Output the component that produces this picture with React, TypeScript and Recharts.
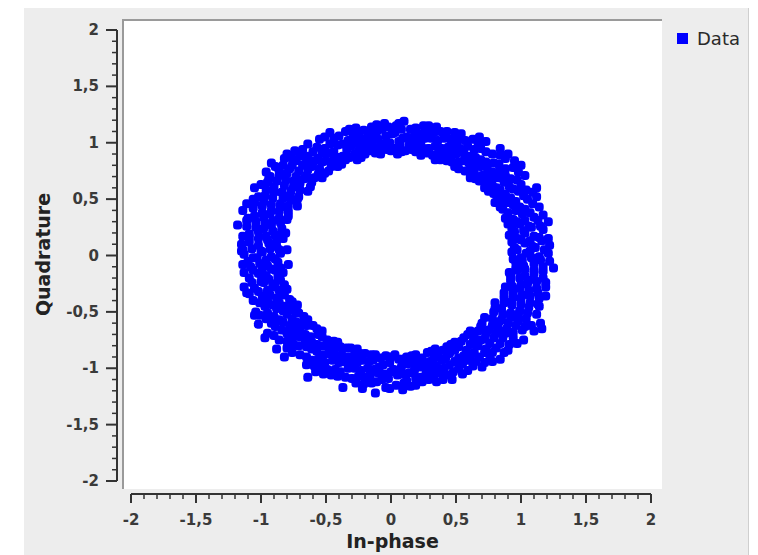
import { ScatterChart, Scatter, XAxis, YAxis, CartesianGrid, Legend } from 'recharts';

const quadrant1: [number, number][] = [
  [0.93, 0.03], [1.0, -0.02], [1.07, 0.04], [1.14, -0.01], [1.21, 0.02],
  [0.97, 0.05], [1.04, 0.02], [1.11, 0.07], [1.18, 0.05],
  [0.95, 0.07], [1.03, 0.11], [1.09, 0.08], [1.16, 0.13], [1.22, 0.09],
  [0.93, 0.12], [1.0, 0.14], [1.07, 0.13], [1.14, 0.16], [1.21, 0.15],
  [0.91, 0.18], [0.97, 0.15], [1.03, 0.2], [1.1, 0.17], [1.17, 0.23],
  [0.95, 0.21], [1.02, 0.22], [1.08, 0.25], [1.15, 0.26],
  [0.93, 0.24], [0.99, 0.28], [1.06, 0.26], [1.13, 0.31], [1.21, 0.3],
  [0.9, 0.28], [0.97, 0.3], [1.03, 0.31], [1.1, 0.34], [1.17, 0.36],
  [0.88, 0.33], [0.94, 0.32], [1.01, 0.37], [1.07, 0.38], [1.14, 0.43],
  [0.9, 0.38], [0.96, 0.4], [1.03, 0.41], [1.09, 0.46],
  [0.86, 0.41], [0.94, 0.45], [0.99, 0.43], [1.05, 0.5], [1.12, 0.52],
  [0.84, 0.43], [0.9, 0.47], [0.96, 0.48], [1.02, 0.53], [1.09, 0.56],
  [0.8, 0.47], [0.85, 0.49], [0.92, 0.51], [0.98, 0.57], [1.04, 0.58], [1.12, 0.6],
  [0.82, 0.52], [0.88, 0.54], [0.94, 0.59], [1.0, 0.63],
  [0.79, 0.55], [0.84, 0.58], [0.91, 0.61], [0.97, 0.67], [1.03, 0.71],
  [0.75, 0.57], [0.81, 0.6], [0.87, 0.65], [0.92, 0.68], [0.98, 0.74],
  [0.72, 0.6], [0.78, 0.62], [0.83, 0.69], [0.88, 0.71], [0.94, 0.78], [1.0, 0.8],
  [0.73, 0.65], [0.78, 0.68], [0.83, 0.74], [0.88, 0.77],
  [0.68, 0.66], [0.74, 0.72], [0.78, 0.74], [0.83, 0.81], [0.88, 0.86],
  [0.65, 0.68], [0.7, 0.71], [0.74, 0.78], [0.79, 0.82], [0.84, 0.89], [0.9, 0.9], [0.95, 0.84],
  [0.61, 0.69], [0.64, 0.74], [0.69, 0.79], [0.73, 0.83], [0.78, 0.9], [0.84, 0.95],
  [0.61, 0.76], [0.65, 0.8], [0.69, 0.85], [0.73, 0.92],
  [0.57, 0.75], [0.6, 0.82], [0.65, 0.87], [0.69, 0.95], [0.73, 1.01],
  [0.52, 0.77], [0.56, 0.84], [0.6, 0.88], [0.64, 0.94], [0.67, 1.0],
  [0.49, 0.79], [0.52, 0.83], [0.56, 0.91], [0.59, 0.97], [0.63, 1.03], [0.68, 1.05],
  [0.47, 0.83], [0.5, 0.9], [0.53, 0.95], [0.57, 1.02],
  [0.43, 0.84], [0.46, 0.9], [0.48, 0.97], [0.51, 1.02], [0.54, 1.08],
  [0.38, 0.85], [0.41, 0.91], [0.44, 0.96], [0.46, 1.03], [0.49, 1.09],
  [0.34, 0.85], [0.36, 0.9], [0.39, 0.95], [0.41, 1.04], [0.43, 1.1],
  [0.32, 0.89], [0.34, 0.97], [0.36, 1.02], [0.38, 1.1],
  [0.28, 0.91], [0.29, 0.95], [0.31, 1.04], [0.33, 1.09], [0.35, 1.14],
  [0.23, 0.89], [0.25, 0.95], [0.26, 1.04], [0.28, 1.1], [0.29, 1.15],
  [0.19, 0.92], [0.21, 0.97], [0.23, 1.01], [0.22, 1.08], [0.25, 1.15],
  [0.16, 0.94], [0.17, 1.0], [0.18, 1.06], [0.19, 1.13],
  [0.11, 0.93], [0.14, 0.98], [0.12, 1.05], [0.15, 1.12], [0.1, 1.19],
  [0.08, 0.92], [0.07, 0.98], [0.09, 1.04], [0.08, 1.12], [0.06, 1.17],
];

const quadrant2: [number, number][] = [
  [0.05, 0.9], [0.02, 0.95], [0.06, 1.01], [0.03, 1.09], [0.04, 1.15],
  [0.0, 0.93], [-0.01, 1.0], [0.01, 1.08], [-0.02, 1.14],
  [-0.03, 0.94], [-0.06, 0.99], [-0.04, 1.06], [-0.07, 1.12], [-0.05, 1.17],
  [-0.08, 0.9], [-0.09, 0.96], [-0.1, 1.03], [-0.11, 1.1], [-0.11, 1.16],
  [-0.12, 0.91], [-0.14, 0.97], [-0.13, 1.03], [-0.16, 1.08], [-0.15, 1.14],
  [-0.16, 0.93], [-0.18, 0.99], [-0.19, 1.04], [-0.21, 1.11],
  [-0.2, 0.9], [-0.22, 0.96], [-0.23, 1.03], [-0.25, 1.07], [-0.27, 1.13],
  [-0.23, 0.87], [-0.25, 0.93], [-0.27, 1.0], [-0.29, 1.06], [-0.32, 1.12],
  [-0.26, 0.85], [-0.28, 0.9], [-0.31, 0.97], [-0.33, 1.02], [-0.35, 1.1],
  [-0.32, 0.87], [-0.34, 0.94], [-0.37, 0.99], [-0.4, 1.06],
  [-0.35, 0.85], [-0.37, 0.88], [-0.41, 0.98], [-0.44, 1.04], [-0.47, 1.09],
  [-0.38, 0.81], [-0.41, 0.87], [-0.44, 0.92], [-0.47, 0.99], [-0.51, 1.05],
  [-0.41, 0.79], [-0.44, 0.85], [-0.48, 0.91], [-0.51, 0.95], [-0.55, 1.03],
  [-0.46, 0.79], [-0.5, 0.84], [-0.53, 0.91], [-0.57, 0.96],
  [-0.48, 0.75], [-0.53, 0.83], [-0.56, 0.86], [-0.6, 0.92], [-0.64, 0.99],
  [-0.51, 0.73], [-0.55, 0.77], [-0.59, 0.84], [-0.64, 0.88], [-0.68, 0.94], [-0.74, 0.93], [-0.76, 0.86],
  [-0.53, 0.69], [-0.56, 0.72], [-0.61, 0.79], [-0.65, 0.83], [-0.7, 0.88],
  [-0.59, 0.69], [-0.64, 0.76], [-0.68, 0.8], [-0.73, 0.84],
  [-0.92, 0.82], [-0.8, 0.9], [-0.87, 0.78],
  [-0.61, 0.65], [-0.65, 0.71], [-0.71, 0.75], [-0.76, 0.8], [-0.82, 0.86],
  [-0.62, 0.61], [-0.67, 0.68], [-0.73, 0.7], [-0.78, 0.77], [-0.83, 0.8], [-0.89, 0.79], [-0.96, 0.74],
  [-0.64, 0.57], [-0.7, 0.64], [-0.75, 0.66], [-0.8, 0.73], [-0.86, 0.75], [-0.93, 0.7],
  [-0.7, 0.58], [-0.75, 0.61], [-0.81, 0.67], [-0.86, 0.71],
  [-0.71, 0.52], [-0.77, 0.57], [-0.82, 0.62], [-0.88, 0.66], [-0.94, 0.68],
  [-0.72, 0.5], [-0.78, 0.53], [-0.84, 0.56], [-0.9, 0.61], [-0.95, 0.65], [-1.0, 0.63],
  [-0.72, 0.44], [-0.77, 0.49], [-0.83, 0.51], [-0.9, 0.56], [-0.96, 0.58], [-1.05, 0.6], [-1.02, 0.52],
  [-0.79, 0.44], [-0.85, 0.46], [-0.91, 0.51], [-0.97, 0.53],
  [-0.79, 0.39], [-0.85, 0.43], [-0.92, 0.45], [-0.98, 0.48], [-1.06, 0.5],
  [-0.79, 0.35], [-0.86, 0.39], [-0.92, 0.4], [-0.99, 0.44], [-1.05, 0.47], [-1.11, 0.46],
  [-0.8, 0.32], [-0.86, 0.33], [-0.93, 0.37], [-0.99, 0.38], [-1.06, 0.42], [-1.14, 0.4], [-1.1, 0.33],
  [-0.85, 0.29], [-0.91, 0.31], [-0.98, 0.34], [-1.05, 0.35],
  [-0.84, 0.24], [-0.92, 0.27], [-0.97, 0.29], [-1.04, 0.3], [-1.11, 0.31], [-1.18, 0.27],
  [-0.84, 0.21], [-0.91, 0.22], [-0.98, 0.24], [-1.04, 0.25], [-1.11, 0.26],
  [-0.83, 0.15], [-0.89, 0.18], [-0.96, 0.17], [-1.02, 0.21], [-1.09, 0.19], [-0.81, 0.2],
  [-0.88, 0.13], [-0.95, 0.14], [-1.02, 0.15], [-1.09, 0.16], [-1.14, 0.17], [-1.15, 0.04],
  [-0.88, 0.08], [-0.94, 0.11], [-1.02, 0.09], [-1.09, 0.12], [-1.15, 0.1], [-0.8, 0.05],
  [-0.86, 0.05], [-0.93, 0.06], [-1.0, 0.04], [-1.07, 0.06], [-1.14, 0.05],
];

const quadrant3: [number, number][] = [
  [-0.85, 0.02], [-0.92, -0.01], [-0.99, 0.03], [-1.06, -0.02], [-1.13, 0.01],
  [-0.89, -0.03], [-0.96, -0.04], [-1.03, -0.02], [-1.1, -0.05],
  [-0.87, -0.06], [-0.95, -0.09], [-1.01, -0.07], [-1.08, -0.1], [-1.14, -0.08], [-0.79, -0.08],
  [-0.85, -0.11], [-0.92, -0.12], [-0.99, -0.13], [-1.06, -0.13], [-1.13, -0.15],
  [-0.83, -0.15], [-0.89, -0.13], [-0.96, -0.18], [-1.02, -0.16], [-1.09, -0.2],
  [-0.87, -0.19], [-0.94, -0.21], [-1.0, -0.23], [-1.07, -0.24],
  [-0.85, -0.22], [-0.91, -0.25], [-0.98, -0.24], [-1.05, -0.29], [-1.13, -0.28],
  [-0.82, -0.26], [-0.89, -0.28], [-0.95, -0.31], [-1.02, -0.32], [-1.09, -0.34],
  [-0.8, -0.3], [-0.86, -0.31], [-0.93, -0.35], [-0.99, -0.36], [-1.06, -0.4], [-1.11, -0.33],
  [-0.82, -0.35], [-0.88, -0.38], [-0.95, -0.4], [-1.01, -0.42],
  [-0.78, -0.39], [-0.86, -0.42], [-0.91, -0.44], [-0.97, -0.45], [-1.04, -0.5],
  [-0.76, -0.41], [-0.82, -0.45], [-0.88, -0.47], [-0.95, -0.51], [-1.01, -0.53],
  [-0.72, -0.44], [-0.77, -0.47], [-0.83, -0.49], [-0.9, -0.54], [-0.96, -0.56], [-1.05, -0.53],
  [-0.74, -0.49], [-0.8, -0.52], [-0.86, -0.57], [-0.92, -0.6],
  [-0.71, -0.51], [-0.76, -0.56], [-0.83, -0.59], [-0.89, -0.63], [-0.95, -0.69],
  [-0.67, -0.54], [-0.73, -0.59], [-0.78, -0.62], [-0.84, -0.66], [-0.9, -0.71], [-0.97, -0.73], [-1.02, -0.61],
  [-0.64, -0.57], [-0.7, -0.6], [-0.75, -0.66], [-0.8, -0.69], [-0.86, -0.75],
  [-0.65, -0.62], [-0.7, -0.66], [-0.75, -0.72], [-0.8, -0.76],
  [-0.6, -0.62], [-0.66, -0.7], [-0.7, -0.72], [-0.75, -0.79], [-0.8, -0.82], [-0.88, -0.83],
  [-0.57, -0.65], [-0.62, -0.72], [-0.66, -0.75], [-0.71, -0.8], [-0.76, -0.86], [-0.82, -0.9],
  [-0.53, -0.67], [-0.56, -0.7], [-0.61, -0.77], [-0.65, -0.81], [-0.7, -0.88],
  [-0.53, -0.72], [-0.57, -0.79], [-0.61, -0.83], [-0.65, -0.9],
  [-0.49, -0.75], [-0.52, -0.8], [-0.57, -0.85], [-0.61, -0.93], [-0.65, -0.97], [-0.64, -1.08], [-0.58, -1.03],
  [-0.44, -0.76], [-0.48, -0.8], [-0.52, -0.88], [-0.56, -0.92], [-0.59, -0.98],
  [-0.41, -0.77], [-0.44, -0.83], [-0.48, -0.87], [-0.51, -0.95], [-0.55, -0.99],
  [-0.39, -0.81], [-0.42, -0.89], [-0.45, -0.93], [-0.49, -1.01], [-0.52, -1.05],
  [-0.34, -0.82], [-0.38, -0.88], [-0.4, -0.95], [-0.43, -1.01], [-0.46, -1.06], [-0.37, -1.17],
  [-0.31, -0.82], [-0.33, -0.9], [-0.36, -0.94], [-0.39, -1.03], [-0.41, -1.07],
  [-0.26, -0.83], [-0.28, -0.88], [-0.31, -0.95], [-0.33, -1.0], [-0.35, -1.08],
  [-0.24, -0.87], [-0.26, -0.95], [-0.28, -1.0], [-0.3, -1.09],
  [-0.2, -0.87], [-0.22, -0.93], [-0.23, -1.02], [-0.25, -1.07], [-0.27, -1.13],
  [-0.15, -0.88], [-0.17, -0.94], [-0.18, -1.0], [-0.2, -1.08], [-0.21, -1.14], [-0.22, -1.18],
  [-0.12, -0.88], [-0.14, -0.93], [-0.13, -1.01], [-0.16, -1.06], [-0.15, -1.13], [-0.12, -1.22],
  [-0.08, -0.91], [-0.09, -0.99], [-0.1, -1.04], [-0.11, -1.12],
  [-0.04, -0.89], [-0.06, -0.97], [-0.05, -1.05], [-0.07, -1.1], [-0.04, -1.17],
  [0.0, -0.9], [-0.01, -0.95], [0.0, -1.03], [-0.02, -1.09], [-0.01, -1.18],
];

const quadrant4: [number, number][] = [
  [0.03, -0.88], [0.06, -0.92], [0.02, -1.01], [0.05, -1.06], [0.04, -1.15], [0.09, -1.19],
  [0.08, -0.92], [0.08, -0.99], [0.09, -1.05], [0.1, -1.13],
  [0.12, -0.9], [0.13, -0.96], [0.14, -1.04], [0.12, -1.11], [0.15, -1.16],
  [0.16, -0.89], [0.17, -0.95], [0.18, -1.02], [0.19, -1.09], [0.19, -1.15],
  [0.19, -0.88], [0.21, -0.95], [0.22, -0.99], [0.23, -1.08], [0.24, -1.12],
  [0.24, -0.91], [0.26, -0.97], [0.27, -1.03], [0.29, -1.1],
  [0.28, -0.86], [0.3, -0.94], [0.31, -1.01], [0.33, -1.06], [0.35, -1.12],
  [0.31, -0.85], [0.33, -0.91], [0.35, -0.98], [0.37, -1.04], [0.4, -1.1],
  [0.34, -0.83], [0.36, -0.88], [0.39, -0.93], [0.41, -1.0], [0.43, -1.06],
  [0.4, -0.84], [0.42, -0.91], [0.45, -0.97], [0.48, -1.03],
  [0.43, -0.81], [0.45, -0.87], [0.49, -0.94], [0.52, -1.0], [0.55, -1.05], [0.47, -1.1],
  [0.46, -0.79], [0.49, -0.84], [0.52, -0.91], [0.55, -0.96], [0.59, -1.02],
  [0.49, -0.77], [0.52, -0.81], [0.56, -0.89], [0.59, -0.93], [0.63, -0.98],
  [0.54, -0.76], [0.58, -0.84], [0.61, -0.88], [0.65, -0.94], [0.7, -0.99], [0.78, -0.94],
  [0.56, -0.73], [0.61, -0.79], [0.64, -0.86], [0.68, -0.9], [0.72, -0.95],
  [0.59, -0.7], [0.63, -0.77], [0.67, -0.8], [0.72, -0.86], [0.76, -0.92],
  [0.61, -0.67], [0.64, -0.72], [0.69, -0.75], [0.73, -0.83], [0.78, -0.86], [0.84, -0.92],
  [0.67, -0.67], [0.72, -0.74], [0.76, -0.78], [0.81, -0.82], [0.87, -0.86],
  [0.69, -0.63], [0.73, -0.69], [0.79, -0.73], [0.84, -0.78], [0.9, -0.84],
  [0.7, -0.6], [0.75, -0.66], [0.81, -0.69], [0.86, -0.73], [0.91, -0.79], [0.97, -0.78],
  [0.72, -0.55], [0.78, -0.62], [0.83, -0.66], [0.88, -0.69], [0.94, -0.73], [1.02, -0.75],
  [0.78, -0.56], [0.83, -0.59], [0.89, -0.65], [0.94, -0.68],
  [0.79, -0.5], [0.85, -0.57], [0.9, -0.6], [0.96, -0.62], [1.01, -0.66], [1.08, -0.62], [1.15, -0.6],
  [0.8, -0.47], [0.86, -0.52], [0.92, -0.55], [0.98, -0.58], [1.03, -0.63], [1.1, -0.67], [1.16, -0.65],
  [0.8, -0.42], [0.85, -0.47], [0.92, -0.51], [0.98, -0.52], [1.04, -0.56], [1.12, -0.52],
  [0.87, -0.42], [0.93, -0.44], [0.99, -0.49], [1.05, -0.51],
  [0.87, -0.37], [0.93, -0.41], [1.0, -0.43], [1.06, -0.46], [1.14, -0.45],
  [0.87, -0.33], [0.94, -0.37], [1.0, -0.38], [1.07, -0.42], [1.13, -0.43],
  [0.88, -0.28], [0.94, -0.33], [1.01, -0.35], [1.07, -0.36], [1.14, -0.38],
  [0.93, -0.27], [0.99, -0.29], [1.06, -0.31], [1.13, -0.33], [1.19, -0.36],
  [0.92, -0.22], [1.0, -0.26], [1.05, -0.25], [1.12, -0.29], [1.19, -0.28],
  [0.92, -0.18], [0.99, -0.2], [1.06, -0.22], [1.12, -0.23], [1.19, -0.24],
  [0.91, -0.15], [0.97, -0.13], [1.03, -0.18], [1.1, -0.16], [1.17, -0.2],
  [0.96, -0.11], [1.03, -0.12], [1.1, -0.13], [1.17, -0.14],
  [0.96, -0.06], [1.02, -0.09], [1.1, -0.07], [1.17, -0.1], [1.25, -0.11],
  [0.94, -0.03], [1.01, -0.04], [1.08, -0.02], [1.15, -0.04], [1.22, -0.05],
];

const axisTicks = [
  -2, -1.9, -1.8, -1.7, -1.6, -1.5, -1.4, -1.3, -1.2, -1.1, -1, -0.9, -0.8, -0.7, -0.6, -0.5, -0.4, -0.3, -0.2, -0.1,
  0, 0.1, 0.2, 0.3, 0.4, 0.5, 0.6, 0.7, 0.8, 0.9, 1, 1.1, 1.2, 1.3, 1.4, 1.5, 1.6, 1.7, 1.8, 1.9, 2,
];

const points = [...quadrant1, ...quadrant2, ...quadrant3, ...quadrant4].map(([i, q]) => ({ i, q }));

const W = 758;
const H = 555;
const PLOT_L = 123;
const PLOT_T = 20;
const PLOT_R = 662;
const PLOT_B = 489;
const X_PAD = { left: 8, right: 11 };
const Y_PAD = { top: 10, bottom: 8 };
const X_SPAN = PLOT_R - PLOT_L - X_PAD.left - X_PAD.right;
const Y_SPAN = PLOT_B - PLOT_T - Y_PAD.top - Y_PAD.bottom;

const FONT = '"DejaVu Sans", sans-serif';
const AXIS = '#333';
const BLUE = '#0000ff';

const isMajor = (v: number) => Math.abs(v * 2 - Math.round(v * 2)) < 1e-6;
const fmt = (v: number) => String(v).replace('.', ',');

function XTick(props: any) {
  const { x, y, payload, index } = props;
  const v: number = payload.value;
  const major = isMajor(v);
  const ay = y + 5;
  return (
    <g>
      {index === 0 && <line x1={x} x2={x + X_SPAN} y1={ay} y2={ay} stroke={AXIS} strokeWidth={2} />}
      <line x1={x} x2={x} y1={ay} y2={ay + (major ? 9 : 5)} stroke={AXIS} strokeWidth={major ? 2 : 1.5} />
      {major && (
        <text x={x} y={ay + 31} textAnchor="middle" fontFamily={FONT} fontSize={15} fontWeight={700} fill="#3a3a3a">
          {fmt(v)}
        </text>
      )}
    </g>
  );
}

function YTick(props: any) {
  const { x, y, payload, index } = props;
  const v: number = payload.value;
  const major = isMajor(v);
  const ax = x - 6;
  return (
    <g>
      {index === 0 && <line x1={ax} x2={ax} y1={y} y2={y - Y_SPAN} stroke={AXIS} strokeWidth={2} />}
      <line x1={ax} x2={ax - (major ? 11 : 5)} y1={y} y2={y} stroke={AXIS} strokeWidth={major ? 2 : 1.5} />
      {major && (
        <text x={ax - 18} y={y + 5} textAnchor="end" fontFamily={FONT} fontSize={15} fontWeight={700} fill="#3a3a3a">
          {fmt(v)}
        </text>
      )}
    </g>
  );
}

function Dot(props: any) {
  const { cx, cy } = props;
  return <rect x={cx - 4.5} y={cy - 4.5} width={9} height={9} rx={3.5} fill={BLUE} />;
}

function LegendBox() {
  return (
    <div style={{ display: 'flex', alignItems: 'center', fontFamily: FONT, fontSize: 18, color: '#2a2a2a' }}>
      <span style={{ display: 'inline-block', width: 11, height: 11, background: BLUE, marginRight: 9 }} />
      Data
    </div>
  );
}

export default function App() {
  return (
    <div style={{ position: 'absolute', left: 0, top: 0, width: W, height: H, background: '#fff', overflow: 'hidden' }}>
      <div style={{ position: 'absolute', left: 24, top: 8, width: 724, height: H - 8, background: '#ededed', borderRight: '1px solid #cfcfcf' }} />
      <div style={{ position: 'absolute', left: 0, top: 0 }}>
        <ScatterChart width={W} height={H} margin={{ top: PLOT_T, right: W - PLOT_R, bottom: 0, left: PLOT_L - 100 }}>
          <CartesianGrid horizontal={false} vertical={false} fill="#fff" />
          <XAxis
            type="number"
            dataKey="i"
            domain={[-2, 2]}
            ticks={axisTicks}
            interval={0}
            height={H - PLOT_B}
            padding={X_PAD}
            axisLine={false}
            tickLine={false}
            tickSize={0}
            tickMargin={0}
            tick={<XTick />}
            label={{
              content: (p: any) => (
                <text
                  x={p.viewBox.x + p.viewBox.width / 2}
                  y={p.viewBox.y + 59}
                  textAnchor="middle"
                  fontFamily={FONT}
                  fontSize={19}
                  fontWeight={700}
                  fill="#222"
                >
                  In-phase
                </text>
              ),
            }}
          />
          <YAxis
            type="number"
            dataKey="q"
            domain={[-2, 2]}
            ticks={axisTicks}
            interval={0}
            width={100}
            padding={Y_PAD}
            axisLine={false}
            tickLine={false}
            tickSize={0}
            tickMargin={0}
            tick={<YTick />}
            label={{
              content: (p: any) => {
                const cx = p.viewBox.x + 20;
                const cy = p.viewBox.y + p.viewBox.height / 2;
                return (
                  <text
                    x={cx}
                    y={cy}
                    transform={`rotate(-90 ${cx} ${cy})`}
                    textAnchor="middle"
                    dominantBaseline="central"
                    fontFamily={FONT}
                    fontSize={19}
                    fontWeight={700}
                    fill="#222"
                  >
                    Quadrature
                  </text>
                );
              },
            }}
          />
          <Legend
            layout="vertical"
            align="center"
            verticalAlign="middle"
            wrapperStyle={{ left: 677, top: 28, width: 78 }}
            content={() => <LegendBox />}
          />
          <Scatter name="Data" data={points} fill={BLUE} shape={<Dot />} isAnimationActive={false} />
        </ScatterChart>
      </div>
      <div style={{ position: 'absolute', left: PLOT_L - 1, top: PLOT_T - 1, width: PLOT_R - PLOT_L + 1, height: 2, background: '#9a9a9a', pointerEvents: 'none' }} />
      <div style={{ position: 'absolute', left: PLOT_L - 1, top: PLOT_T - 1, width: 2, height: PLOT_B - PLOT_T + 1, background: '#9a9a9a', pointerEvents: 'none' }} />
    </div>
  );
}
